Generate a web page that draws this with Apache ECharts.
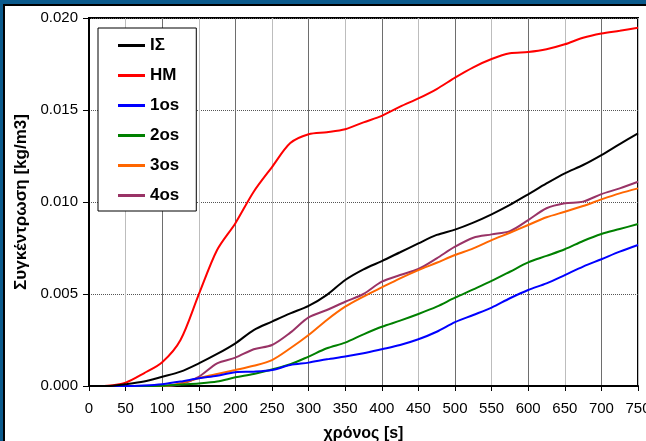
<!DOCTYPE html>
<html><head><meta charset="utf-8">
<script src="https://cdn.jsdelivr.net/npm/echarts@6/dist/echarts.min.js"></script>
<style>html,body{margin:0;padding:0;background:#fff}#c{width:646px;height:441px}</style>
</head><body><div id="c"></div>
<script>
var times = [0,25,50,75,100,125,150,175,200,225,250,275,300,325,350,375,400,425,450,475,500,525,550,575,600,625,650,675,700,725,750];
var seriesNames = ['IΣ','HM','1os','2os','3os','4os'];
var IS = [0,0,0.0001,0.00024,0.0005,0.00078,0.00123,0.00174,0.00232,0.00304,0.0035,0.00395,0.00435,0.00495,0.00576,0.00634,0.00679,0.00727,0.00775,0.00821,0.0085,0.00888,0.00933,0.00984,0.01042,0.01101,0.01156,0.01201,0.01255,0.01315,0.01373];
var HM = [0,0.00002,0.00018,0.00069,0.00129,0.0025,0.00498,0.00739,0.00885,0.01056,0.0119,0.0132,0.01368,0.01379,0.01395,0.01433,0.01468,0.01518,0.01563,0.01614,0.01676,0.01732,0.01777,0.01808,0.01815,0.0183,0.01857,0.01893,0.01916,0.01931,0.01947];
var os1 = [0,0,0,0.00003,0.0001,0.00024,0.00042,0.00056,0.00075,0.00078,0.00087,0.00114,0.00127,0.00145,0.0016,0.00178,0.002,0.00223,0.00254,0.00295,0.00347,0.00386,0.00426,0.00477,0.00522,0.00558,0.00603,0.00649,0.00689,0.0073,0.00766];
var os2 = [0,0,0,0,0.00002,0.00008,0.00014,0.00024,0.00047,0.00065,0.0009,0.00118,0.0016,0.00205,0.00236,0.00281,0.00322,0.00355,0.00391,0.00431,0.0048,0.00525,0.00571,0.00621,0.00672,0.00707,0.00743,0.00788,0.00826,0.00853,0.0088];
var os3 = [0,0,0,0,0,0.00015,0.00042,0.00065,0.00087,0.0011,0.00141,0.00205,0.00277,0.00359,0.00431,0.00486,0.00536,0.00585,0.0063,0.0067,0.00712,0.00748,0.00793,0.00833,0.00875,0.00917,0.00947,0.00978,0.01014,0.01047,0.01074];
var os4 = [0,0,0,0,0,0.0001,0.0005,0.00123,0.00154,0.002,0.00223,0.0029,0.00373,0.00413,0.00458,0.005,0.00567,0.00603,0.00636,0.00694,0.00757,0.00806,0.00824,0.00842,0.00902,0.00966,0.00993,0.01002,0.01043,0.01074,0.0111];
var colors = ['#000000','#ff0000','#0000ff','#008000','#ff6600','#993366'];
var allData = [IS,HM,os1,os2,os3,os4];

function pairs(arr){ return times.map(function(t,i){ return [t, arr[i]]; }); }

var chart = echarts.init(document.getElementById('c'));
chart.setOption({
  animation: false,
  textStyle: {fontFamily: 'Liberation Sans, Arial, sans-serif'},
  graphic: [
    {type:'rect', shape:{x:0,y:0,width:646,height:4}, style:{fill:'#0b5a8c'}, silent:true},
    {type:'rect', shape:{x:0,y:0,width:3,height:441}, style:{fill:'#0b5a8c'}, silent:true},
    {type:'rect', shape:{x:3,y:4,width:643,height:2}, style:{fill:'#000'}, silent:true},
    {type:'rect', shape:{x:3,y:4,width:2,height:437}, style:{fill:'#000'}, silent:true}
  ],
  grid: {left: 89, top: 18, width: 549, height: 368, outerBoundsMode: 'none', containLabel: false, show: true, borderColor: '#000', borderWidth: 2, backgroundColor: 'transparent'},
  legend: {
    orient: 'vertical', left: 98, top: 28,
    backgroundColor: '#fff', borderColor: '#000', borderWidth: 1,
    padding: [9, 17, 7, 20],
    itemWidth: 27, itemHeight: 3, itemGap: 13, icon: 'rect',
    textStyle: {fontSize: 17, fontWeight: 'bold', color: '#000', lineHeight: 17, padding: [0,0,0,0]},
    data: seriesNames
  },
  xAxis: {
    type: 'value', min: 0, max: 750, interval: 50,
    name: 'χρόνος [s]', nameLocation: 'middle', nameGap: 40,
    nameTextStyle: {fontSize: 16, fontWeight: 'bold', color: '#000'},
    axisLine: {show: true, lineStyle: {color: '#000', width: 2}},
    axisTick: {show: true, length: 5, lineStyle: {color: '#000'}},
    axisLabel: {fontSize: 15, color: '#000', margin: 15, showMaxLabel: true},
    splitLine: {show: true, lineStyle: {color: ['#6e6e6e', '#bdbdbd'], width: 1}}
  },
  yAxis: {
    type: 'value', min: 0, max: 0.02, interval: 0.005,
    name: 'Συγκέντρωση [kg/m3]', nameLocation: 'middle', nameGap: 55,
    nameTextStyle: {fontSize: 17, fontWeight: 'bold', color: '#000'},
    axisLine: {show: true, lineStyle: {color: '#000', width: 2}},
    axisTick: {show: true, length: 6, lineStyle: {color: '#000'}},
    axisLabel: {fontSize: 15, color: '#000', margin: 11, formatter: function(v){ return v.toFixed(3); }},
    splitLine: {show: true, lineStyle: {color: '#555', width: 1, type: [1, 1]}}
  },
  series: seriesNames.map(function(n, i){
    return {
      name: n, type: 'line', data: pairs(allData[i]),
      showSymbol: false, symbol: 'none',
      smooth: 0.3,
      lineStyle: {color: colors[i], width: 2},
      itemStyle: {color: colors[i]},
      z: 10 - i
    };
  })
});
</script></body></html>
